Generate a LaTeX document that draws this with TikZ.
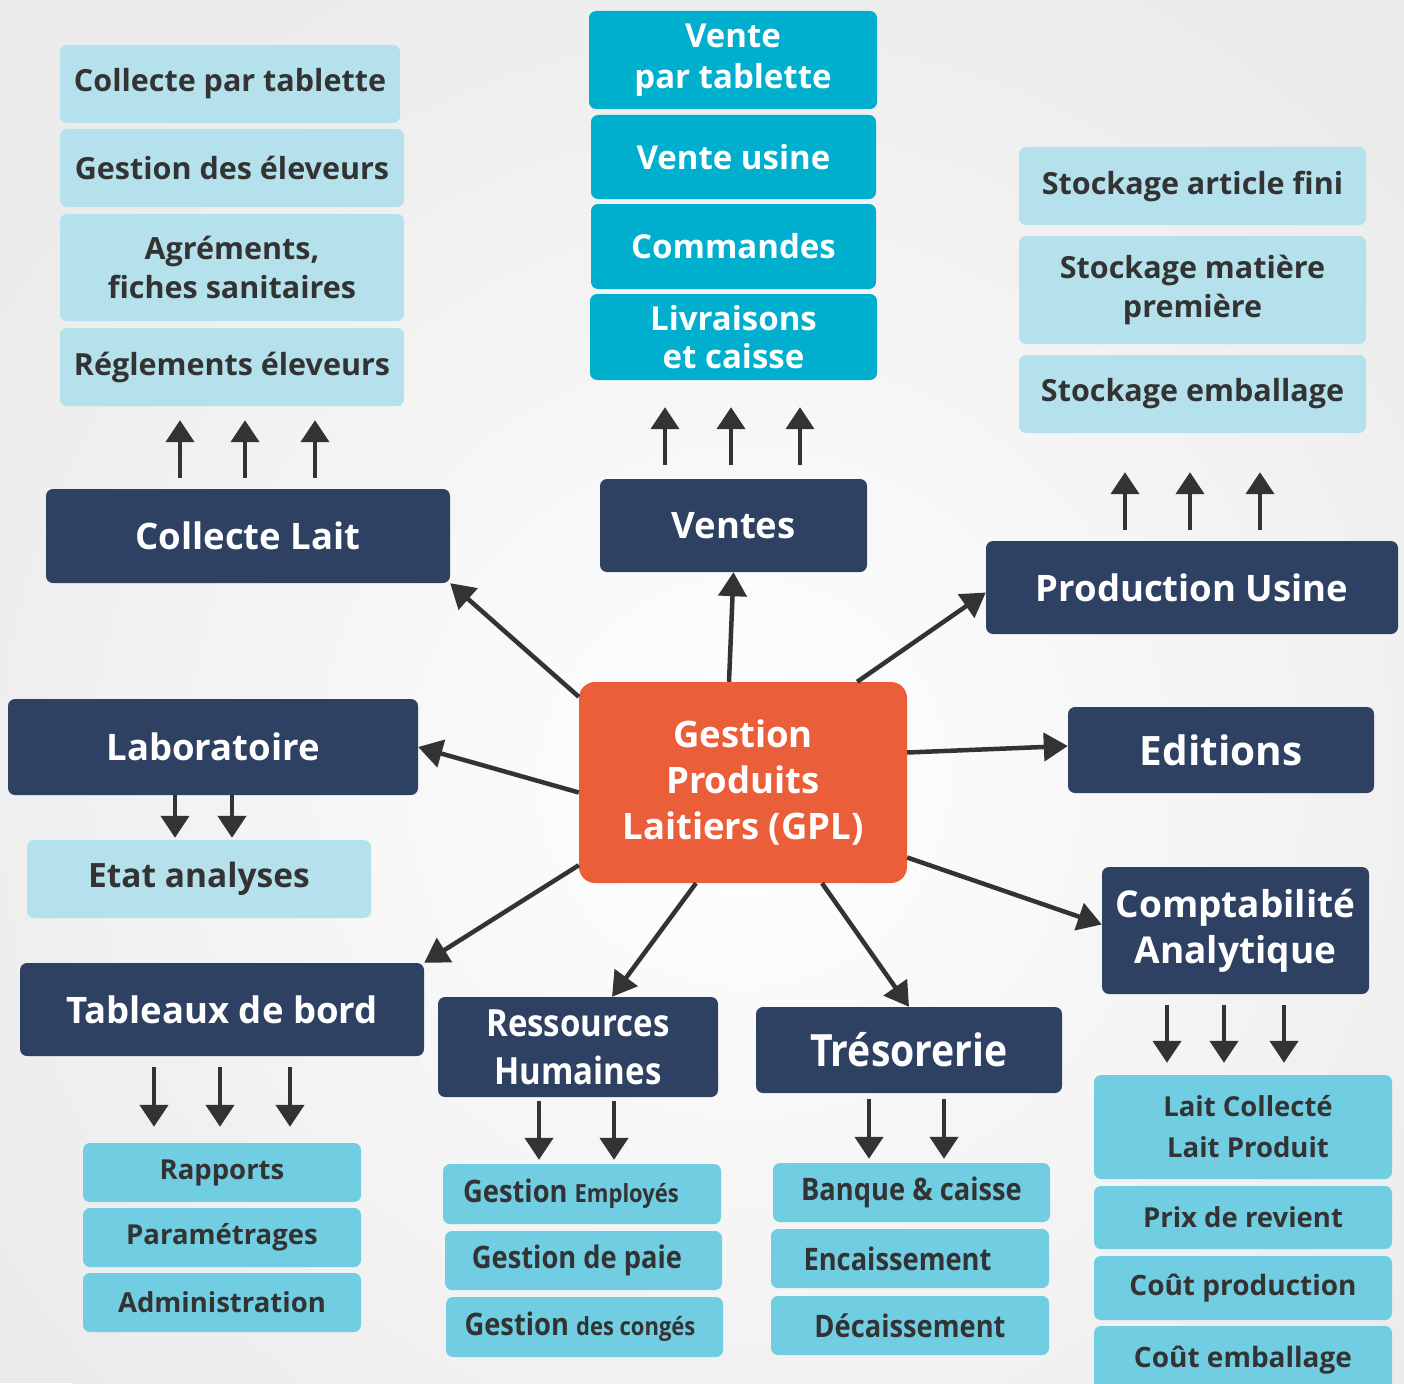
\documentclass[tikz,border=0pt]{standalone}
\usepackage{fontspec}
\setmainfont{Open Sans}
\newfontfamily\narrowfont[FakeStretch=0.88]{Open Sans}
\usetikzlibrary{arrows.meta}
\definecolor{navy}{HTML}{2E4163}
\definecolor{coral}{HTML}{EB5E3A}
\definecolor{salecyan}{HTML}{00AFCE}
\definecolor{paleblue}{HTML}{B5E1EC}
\definecolor{itemcyan}{HTML}{71CDE2}
\definecolor{ink}{HTML}{333333}
\definecolor{backdrop}{HTML}{EBEBEB}
\tikzset{
	box/.style={rounded corners=7pt, inner sep=0pt, align=center},
	topic/.style={box, fill=navy, text=white, font=\bfseries\fontsize{36.5}{46}\selectfont},
	pale/.style={box, fill=paleblue, text=ink, font=\bfseries\fontsize{30.5}{39}\selectfont},
	sale/.style={box, fill=salecyan, text=white, font=\bfseries\fontsize{33}{41}\selectfont},
	item/.style={box, fill=itemcyan, text=ink, font=\bfseries\fontsize{27.5}{41}\selectfont},
	thin/.style={font=\narrowfont\bfseries\fontsize{31}{36}\selectfont},
	link/.style={draw=ink, line width=4.5pt, -{Triangle[length=24pt,width=28pt]}},
	stub/.style={draw=ink, line width=4.5pt, -{Triangle[length=22pt,width=28pt]}}
}
\begin{document}
\begin{tikzpicture}[x=1pt, y=-1pt]
	\useasboundingbox (0,0) rectangle (1404,1383);
	\fill[backdrop] (0,0) rectangle (1404,1383);
	\shade[inner color=white, outer color=backdrop] (743,782) circle (900);

	\node[box, fill=coral, text=white, rounded corners=16pt, minimum width=328pt, minimum height=201pt, font=\bfseries\fontsize{36.5}{46}\selectfont] (gpl) at (743,782.5) {Gestion\\Produits\\Laitiers (GPL)};

	\node[topic, minimum width=404pt, minimum height=94pt] (collecte) at (248,536) {Collecte Lait};
	\node[pale, minimum width=340pt, minimum height=78pt] (tablette) at (230,84) {Collecte par tablette};
	\node[pale, minimum width=344pt, minimum height=78pt] (eleveurs) at (232,168) {Gestion des éleveurs};
	\node[pale, minimum width=344pt, minimum height=107pt] (agrements) at (232,267.5) {Agréments,\\fiches sanitaires};
	\node[pale, minimum width=344pt, minimum height=78pt] (reglements) at (232,367) {Réglements éleveurs};

	\node[topic, minimum width=267pt, minimum height=93pt] (ventes) at (733.5,525.5) {Ventes};
	\node[sale, minimum width=288pt, minimum height=98pt] (vtablette) at (733,60) {Vente\\par tablette};
	\node[sale, minimum width=285pt, minimum height=84pt] (vusine) at (733.5,157) {Vente usine};
	\node[sale, minimum width=285pt, minimum height=85pt] (commandes) at (733.5,246.5) {Commandes};
	\node[sale, minimum width=287pt, minimum height=86pt, font=\bfseries\fontsize{33}{38}\selectfont] (livraisons) at (733.5,337) {Livraisons\\et caisse};

	\node[topic, minimum width=412pt, minimum height=93pt] (production) at (1192,587.5) {Production Usine};
	\node[pale, minimum width=347pt, minimum height=78pt] (fini) at (1192.5,186) {Stockage article fini};
	\node[pale, minimum width=347pt, minimum height=108pt] (matiere) at (1192.5,290) {Stockage matière\\première};
	\node[pale, minimum width=347pt, minimum height=78pt] (emballage) at (1192.5,394) {Stockage emballage};

	\node[topic, minimum width=306pt, minimum height=86pt, font=\bfseries\fontsize{40.5}{46}\selectfont] (editions) at (1221,750) {Editions};

	\node[topic, minimum width=410pt, minimum height=96pt] (labo) at (213,747) {Laboratoire};
	\node[pale, minimum width=344pt, minimum height=78pt, font=\bfseries\fontsize{33.5}{39}\selectfont] (analyses) at (199,879) {Etat analyses};

	\node[topic, minimum width=404pt, minimum height=93pt] (tableaux) at (222,1009.5) {Tableaux de bord};
	\node[item, minimum width=278pt, minimum height=59pt] (rapports) at (222,1172.5) {Rapports};
	\node[item, minimum width=278pt, minimum height=59pt] (parametrages) at (222,1237.5) {Paramétrages};
	\node[item, minimum width=278pt, minimum height=59pt] (administration) at (222,1302.5) {Administration};

	\node[topic, minimum width=280pt, minimum height=100pt, font=\narrowfont\bfseries\fontsize{37.5}{48}\selectfont] (rh) at (578,1047) {Ressources\\Humaines};
	\node[item, thin, minimum width=278pt, minimum height=60pt] (employes) at (582,1194) {Gestion {\fontsize{25}{30}\selectfont Employés}\hspace*{22pt}};
	\node[item, thin, minimum width=277pt, minimum height=59pt] (paie) at (583.5,1260.5) {Gestion de paie\hspace*{13pt}};
	\node[item, thin, minimum width=277pt, minimum height=60pt] (conges) at (584.5,1327) {Gestion {\fontsize{25}{30}\selectfont des congés}\hspace*{9pt}};

	\node[topic, minimum width=306pt, minimum height=86pt, font=\narrowfont\bfseries\fontsize{44.5}{48}\selectfont] (tresor) at (909,1050) {Trésorerie};
	\node[item, thin, minimum width=277pt, minimum height=59pt] (banque) at (911.5,1192.5) {Banque \& caisse};
	\node[item, thin, minimum width=278pt, minimum height=59pt] (encaissement) at (910,1258.5) {Encaissement\hspace*{25pt}};
	\node[item, thin, minimum width=278pt, minimum height=59pt] (decaissement) at (910,1325.5) {Décaissement};

	\node[topic, minimum width=267pt, minimum height=127pt, font=\bfseries\fontsize{37}{46}\selectfont] (compta) at (1235.5,930.5) {Comptabilité\\Analytique};
	\node[item, minimum width=298pt, minimum height=104pt] (laitprod) at (1243,1127) {\hspace*{10pt}Lait Collecté\\\hspace*{10pt}Lait Produit};
	\node[item, minimum width=298pt, minimum height=63pt] (prix) at (1243,1217.5) {Prix de revient};
	\node[item, minimum width=298pt, minimum height=64pt, font=\bfseries\fontsize{28}{30}\selectfont] (coutprod) at (1243,1288) {Coût production};
	\node[item, minimum width=298pt, minimum height=69pt, font=\bfseries\fontsize{28}{30}\selectfont] (coutemb) at (1243,1360.5) {Coût emballage};

	\draw[link] ([yshift=-15pt]gpl.north west) -- (collecte.south east);
	\draw[link] ([xshift=-14pt]gpl.north) -- (ventes.south);
	\draw[link] ([xshift=-50pt]gpl.north east) -- ([yshift=-5pt]production.west);
	\draw[link] ([yshift=30pt]gpl.east) -- ([yshift=4pt]editions.west);
	\draw[link] ([yshift=-10pt]gpl.west) -- (labo.east);
	\draw[link] ([yshift=18pt]gpl.south west) -- (tableaux.north east);
	\draw[link] ([xshift=-47pt]gpl.south) -- ([xshift=34pt]rh.north);
	\draw[link] ([xshift=79pt]gpl.south) -- (tresor.north);
	\draw[link] ([yshift=-75pt]gpl.east) -- ([yshift=6pt]compta.west);

	\draw[stub, shorten <=11pt, shorten >=14pt] (180,0 |- collecte.north) -- (180,0 |- reglements.south);
	\draw[stub, shorten <=11pt, shorten >=14pt] (245,0 |- collecte.north) -- (245,0 |- reglements.south);
	\draw[stub, shorten <=11pt, shorten >=14pt] (315,0 |- collecte.north) -- (315,0 |- reglements.south);
	\draw[stub, shorten <=14pt, shorten >=27pt] (665,0 |- ventes.north) -- (665,0 |- livraisons.south);
	\draw[stub, shorten <=14pt, shorten >=27pt] (731,0 |- ventes.north) -- (731,0 |- livraisons.south);
	\draw[stub, shorten <=14pt, shorten >=27pt] (800,0 |- ventes.north) -- (800,0 |- livraisons.south);
	\draw[stub, shorten <=11pt, shorten >=39pt] (1125,0 |- production.north) -- (1125,0 |- emballage.south);
	\draw[stub, shorten <=11pt, shorten >=39pt] (1190,0 |- production.north) -- (1190,0 |- emballage.south);
	\draw[stub, shorten <=11pt, shorten >=39pt] (1260,0 |- production.north) -- (1260,0 |- emballage.south);
	\draw[stub, shorten >=2pt] (175,0 |- labo.south) -- (175,0 |- analyses.north);
	\draw[stub, shorten >=2pt] (232,0 |- labo.south) -- (232,0 |- analyses.north);
	\draw[stub, shorten <=11pt, shorten >=16pt] (154,0 |- tableaux.south) -- (154,0 |- rapports.north);
	\draw[stub, shorten <=11pt, shorten >=16pt] (220,0 |- tableaux.south) -- (220,0 |- rapports.north);
	\draw[stub, shorten <=11pt, shorten >=16pt] (290,0 |- tableaux.south) -- (290,0 |- rapports.north);
	\draw[stub, shorten <=4pt, shorten >=4pt] (539,0 |- rh.south) -- (539,0 |- employes.north);
	\draw[stub, shorten <=4pt, shorten >=4pt] (614,0 |- rh.south) -- (614,0 |- employes.north);
	\draw[stub, shorten <=6pt, shorten >=4pt] (869,0 |- tresor.south) -- (869,0 |- banque.north);
	\draw[stub, shorten <=6pt, shorten >=4pt] (944,0 |- tresor.south) -- (944,0 |- banque.north);
	\draw[stub, shorten <=11pt, shorten >=12pt] (1167,0 |- compta.south) -- (1167,0 |- laitprod.north);
	\draw[stub, shorten <=11pt, shorten >=12pt] (1224,0 |- compta.south) -- (1224,0 |- laitprod.north);
	\draw[stub, shorten <=11pt, shorten >=12pt] (1284,0 |- compta.south) -- (1284,0 |- laitprod.north);
\end{tikzpicture}
\end{document}
